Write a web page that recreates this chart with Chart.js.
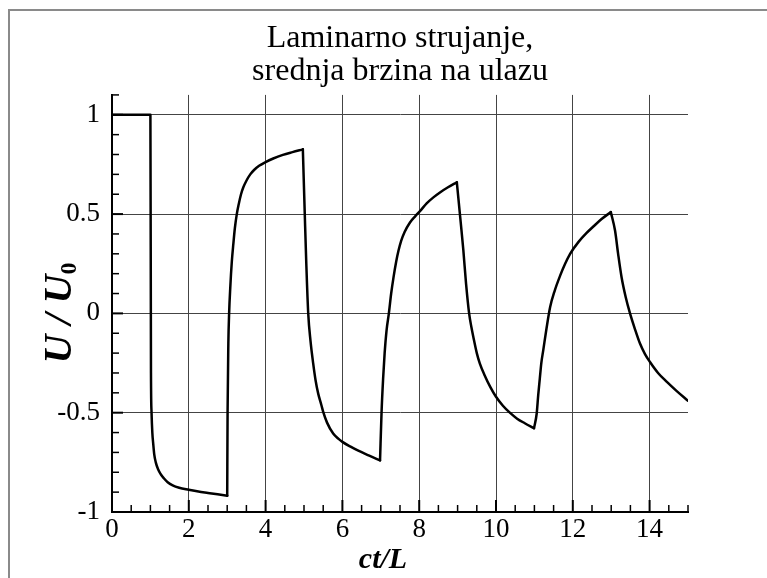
<!DOCTYPE html>
<html>
<head>
<meta charset="utf-8">
<script src="https://cdn.jsdelivr.net/npm/chart.js@4.4.1/dist/chart.umd.min.js"></script>
<style>
  html, body { margin: 0; padding: 0; background: #fff; }
  #wrap { width: 767px; height: 578px; }
</style>
</head>
<body>
<div id="wrap"><canvas id="grafico"></canvas></div>
<script>
// ct/L and U/U0
const ctL = [
  0, 1.0, 1.015, 1.03, 1.05, 1.075, 1.1, 1.14, 1.2, 1.27, 1.35, 1.45, 1.58, 1.75, 2.0, 2.25, 2.5, 2.75, 3.0,
  3.01, 3.03, 3.05, 3.08, 3.12, 3.16, 3.2, 3.25, 3.3, 3.36, 3.42, 3.5, 3.6, 3.7, 3.83, 4.0, 4.2, 4.45, 4.7, 4.97,
  5.02, 5.06, 5.11, 5.17, 5.24, 5.3, 5.37, 5.45, 5.5, 5.6, 5.76, 5.9, 6.0, 6.2, 6.4, 6.7, 6.98,
  7.02, 7.06, 7.1, 7.15, 7.21, 7.27, 7.33, 7.4, 7.46, 7.53, 7.62, 7.76, 7.9, 8.02, 8.2, 8.37, 8.55, 8.75, 8.98,
  9.06, 9.1, 9.15, 9.22, 9.3, 9.36, 9.41, 9.5, 9.58, 9.7, 9.85, 10.0, 10.18, 10.36, 10.55, 10.75, 10.99,
  11.06, 11.1, 11.14, 11.18, 11.23, 11.32, 11.41, 11.53, 11.67, 11.8, 11.93, 12.15, 12.36, 12.55, 12.75, 12.99,
  13.1, 13.18, 13.27, 13.38, 13.49, 13.62, 13.75, 13.88, 14.01, 14.22, 14.45, 14.7, 15.0
];
const uU0 = [
  1, 1, -0.3, -0.5, -0.6, -0.66, -0.71, -0.75, -0.785, -0.81, -0.83, -0.85, -0.866, -0.878, -0.888, -0.897, -0.904, -0.911, -0.918,
  -0.5, -0.15, 0.0, 0.13, 0.26, 0.35, 0.43, 0.5, 0.55, 0.6, 0.635, 0.668, 0.7, 0.722, 0.743, 0.762, 0.78, 0.798, 0.812, 0.826,
  0.5, 0.25, 0.0, -0.14, -0.253, -0.335, -0.404, -0.46, -0.496, -0.55, -0.605, -0.632, -0.647, -0.67, -0.69, -0.716, -0.74,
  -0.496, -0.33, -0.2, -0.085, 0.0, 0.1, 0.18, 0.26, 0.315, 0.365, 0.41, 0.458, 0.49, 0.515, 0.555, 0.584, 0.61, 0.635, 0.66,
  0.5, 0.42, 0.317, 0.15, 0.0, -0.07, -0.119, -0.2, -0.253, -0.31, -0.37, -0.42, -0.465, -0.5, -0.53, -0.553, -0.578,
  -0.504, -0.41, -0.33, -0.25, -0.186, -0.07, 0.032, 0.115, 0.19, 0.25, 0.3, 0.36, 0.405, 0.44, 0.475, 0.51,
  0.417, 0.3, 0.182, 0.08, 0.0, -0.08, -0.152, -0.205, -0.245, -0.3, -0.345, -0.39, -0.44
];
const xTicks = [0, 2, 4, 6, 8, 10, 12, 14];
const yTicks = [-1, -0.5, 0, 0.5, 1];
const naslov = ["Laminarno strujanje,", "srednja brzina na ulazu"];

const serif = '"Liberation Serif", "Times New Roman", serif';

// krivulju dijelim na monotone dijelove da vrhovi ostanu oštri
const dijelovi = [];
let dio = [{ x: ctL[0], y: uU0[0] }];
let smjer = 0;
for (let i = 1; i < ctL.length; i++) {
  const s = Math.sign(uU0[i] - uU0[i - 1]);
  if (smjer !== 0 && s !== smjer) {
    dijelovi.push(dio);
    dio = [{ x: ctL[i - 1], y: uU0[i - 1] }];
  }
  smjer = s;
  dio.push({ x: ctL[i], y: uU0[i] });
}
dijelovi.push(dio);

// okvir oko slike
const okvir = {
  id: "okvir",
  beforeDraw(chart) {
    const ctx = chart.ctx;
    ctx.save();
    ctx.fillStyle = "#fff";
    ctx.fillRect(0, 0, chart.width, chart.height);
    ctx.strokeStyle = "#8a8a8a";
    ctx.lineWidth = 2;
    ctx.beginPath();
    ctx.moveTo(9, chart.height);
    ctx.lineTo(9, 10);
    ctx.lineTo(chart.width, 10);
    ctx.stroke();
    ctx.restore();
  }
};

// crtice prema unutra i naslovi osi
const crtice = {
  id: "crtice",
  afterDraw(chart) {
    const { ctx, chartArea, scales: { x, y } } = chart;
    ctx.save();
    ctx.strokeStyle = "#000";
    for (let i = 0; i <= 30; i++) {
      const px = x.getPixelForValue(i / 2);
      const major = i % 4 === 0;
      ctx.lineWidth = major ? 2 : 1.5;
      ctx.beginPath();
      ctx.moveTo(px, chartArea.bottom);
      ctx.lineTo(px, chartArea.bottom - (major ? 12 : 7));
      ctx.stroke();
    }
    for (let i = -10; i <= 11; i++) {
      const py = y.getPixelForValue(i / 10);
      const major = i % 5 === 0;
      ctx.lineWidth = major ? 2 : 1.5;
      ctx.beginPath();
      ctx.moveTo(chartArea.left, py);
      ctx.lineTo(chartArea.left + (major ? 11 : 7), py);
      ctx.stroke();
    }

    ctx.fillStyle = "#000";
    ctx.textBaseline = "alphabetic";
    // x naslov
    ctx.font = "bold italic 30px " + serif;
    ctx.textAlign = "center";
    ctx.fillText("ct/L", 383, 568);
    // y naslov
    ctx.translate(71, 313);
    ctx.rotate(-Math.PI / 2);
    ctx.font = "bold italic 40px " + serif;
    const glavni = "U / U";
    const w1 = ctx.measureText(glavni).width;
    ctx.font = "bold 24px " + serif;
    const w2 = ctx.measureText("0").width;
    const start = -(w1 + w2) / 2;
    ctx.textAlign = "left";
    ctx.font = "bold italic 40px " + serif;
    ctx.fillText(glavni, start, 0);
    ctx.font = "bold 24px " + serif;
    ctx.fillText("0", start + w1, 5);
    ctx.restore();
  }
};

const ctx = document.getElementById("grafico").getContext("2d");
new Chart(ctx, {
  type: "line",
  data: {
    datasets: dijelovi.map(d => ({
      data: d,
      borderColor: "#000",
      borderWidth: 2.5,
      borderJoinStyle: "round",
      borderCapStyle: "round",
      cubicInterpolationMode: "monotone",
      pointRadius: 0,
      fill: false
    }))
  },
  options: {
    responsive: true,
    maintainAspectRatio: false,
    animation: false,
    layout: { padding: { right: 79 } },
    scales: {
      x: {
        type: "linear",
        min: 0,
        max: 15,
        afterBuildTicks: s => { s.ticks = xTicks.map(v => ({ value: v })); },
        afterFit: s => { s.height = 66; },
        grid: { color: "#444", lineWidth: 1, drawTicks: false },
        border: { color: "#000", width: 2 },
        ticks: {
          color: "#000",
          padding: 2,
          maxRotation: 0,
          font: { family: serif, size: 27 },
          callback: v => String(v)
        }
      },
      y: {
        type: "linear",
        min: -1,
        max: 1.1,
        afterBuildTicks: s => { s.ticks = yTicks.map(v => ({ value: v })); },
        afterFit: s => { s.width = 112; },
        grid: { color: "#444", lineWidth: 1, drawTicks: false },
        border: { color: "#000", width: 2 },
        ticks: {
          color: "#000",
          padding: 12,
          font: { family: serif, size: 27 },
          callback: v => String(v)
        }
      }
    },
    plugins: {
      legend: { display: false },
      tooltip: { enabled: false },
      title: {
        display: true,
        fullSize: false,
        text: naslov,
        color: "#000",
        font: { family: serif, size: 32, weight: "normal", lineHeight: 1.03 },
        padding: { top: 22, bottom: 7 }
      }
    }
  },
  plugins: [okvir, crtice]
});
</script>
</body>
</html>
